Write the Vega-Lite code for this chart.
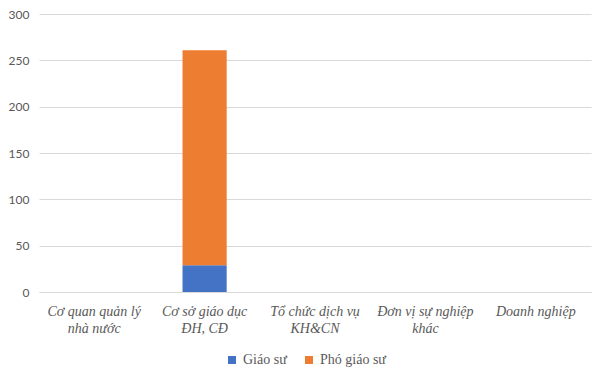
{
  "$schema": "https://vega.github.io/schema/vega-lite/v6.json",
  "width": 552,
  "height": 278,
  "autosize": "none",
  "padding": {"left": 39, "top": 14, "right": 14, "bottom": 86},
  "background": "white",
  "data": {
    "values": [
      {"cat": "Cơ quan quản lý|nhà nước", "series": "Giáo sư", "o": 1, "value": 0},
      {"cat": "Cơ quan quản lý|nhà nước", "series": "Phó giáo sư", "o": 2, "value": 0},
      {"cat": "Cơ sở giáo dục|ĐH, CĐ", "series": "Giáo sư", "o": 1, "value": 29},
      {"cat": "Cơ sở giáo dục|ĐH, CĐ", "series": "Phó giáo sư", "o": 2, "value": 232},
      {"cat": "Tổ chức dịch vụ|KH&CN", "series": "Giáo sư", "o": 1, "value": 0},
      {"cat": "Tổ chức dịch vụ|KH&CN", "series": "Phó giáo sư", "o": 2, "value": 0},
      {"cat": "Đơn vị sự nghiệp|khác", "series": "Giáo sư", "o": 1, "value": 0},
      {"cat": "Đơn vị sự nghiệp|khác", "series": "Phó giáo sư", "o": 2, "value": 0},
      {"cat": "Doanh nghiệp", "series": "Giáo sư", "o": 1, "value": 0},
      {"cat": "Doanh nghiệp", "series": "Phó giáo sư", "o": 2, "value": 0}
    ]
  },
  "mark": {"type": "bar"},
  "encoding": {
    "x": {
      "field": "cat",
      "type": "nominal",
      "sort": null,
      "scale": {"paddingInner": 0.6, "paddingOuter": 0.3},
      "axis": {
        "title": null,
        "labelAngle": 0,
        "labelExpr": "split(datum.label, '|')",
        "labelFont": "Liberation Serif",
        "labelFontStyle": "italic",
        "labelFontSize": 14,
        "labelColor": "#595959",
        "labelLineHeight": 17,
        "labelPadding": 12,
        "ticks": false,
        "domainColor": "#d9d9d9",
        "domainWidth": 1
      }
    },
    "y": {
      "field": "value",
      "type": "quantitative",
      "stack": "zero",
      "scale": {"domain": [0, 300]},
      "axis": {
        "title": null,
        "values": [0, 50, 100, 150, 200, 250, 300],
        "labelFont": "Lato",
        "labelFontSize": 12,
        "labelColor": "#595959",
        "labelPadding": 10,
        "ticks": false,
        "domain": false,
        "gridColor": "#d9d9d9",
        "gridWidth": 1
      }
    },
    "color": {
      "field": "series",
      "type": "nominal",
      "scale": {"domain": ["Giáo sư", "Phó giáo sư"], "range": ["#4472C4", "#ED7D31"]},
      "legend": {
        "title": null,
        "orient": "none",
        "direction": "horizontal",
        "legendX": 186,
        "legendY": 339,
        "symbolType": "square",
        "symbolSize": 64,
        "symbolStrokeWidth": 0,
        "labelFont": "Liberation Serif",
        "labelFontSize": 14,
        "labelColor": "#595959",
        "columnPadding": 15,
        "labelOffset": 4
      }
    },
    "order": {"field": "o", "type": "quantitative"}
  },
  "config": {
    "view": {"stroke": null}
  }
}
